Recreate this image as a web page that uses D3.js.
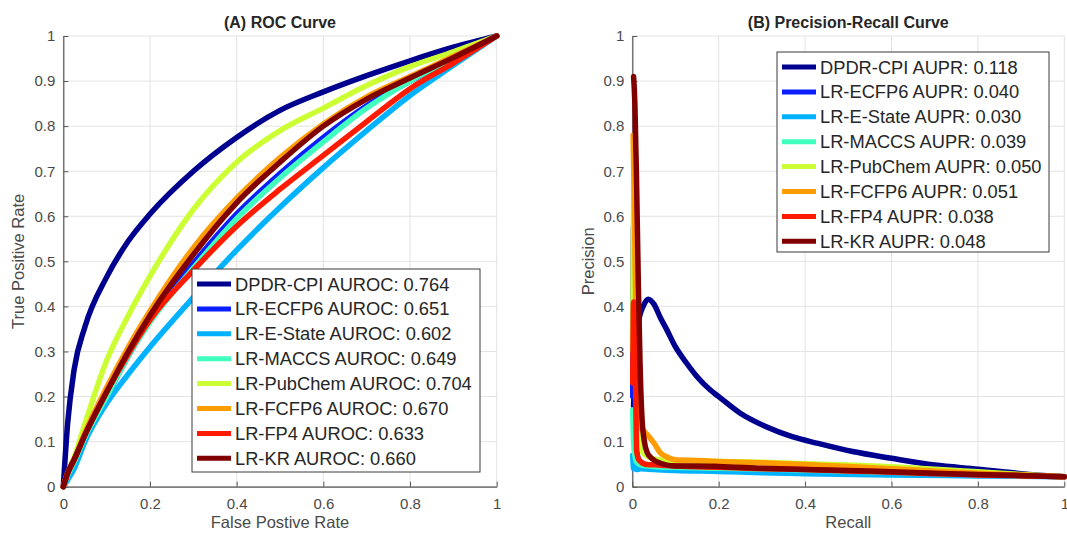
<!DOCTYPE html>
<html>
<head>
<meta charset="utf-8">
<script src="https://cdn.jsdelivr.net/npm/d3@7"></script>
<style>
  body { margin: 0; background: #fff; }
  svg { display: block; font-family: "Liberation Sans", Arial, Helvetica, sans-serif; }
</style>
</head>
<body>
<svg id="chart" width="1067" height="534"></svg>
<script>
// Methods, colours and scores from the legends
var methods = ["DPDR-CPI", "LR-ECFP6", "LR-E-State", "LR-MACCS", "LR-PubChem", "LR-FCFP6", "LR-FP4", "LR-KR"];
var colors = ["#00008f", "#0a1eff", "#00b2ff", "#40ffbf", "#ccff33", "#ff9c00", "#ff1a00", "#800000"];
var aurocValues = ["0.764", "0.651", "0.602", "0.649", "0.704", "0.670", "0.633", "0.660"];
var auprValues = ["0.118", "0.040", "0.030", "0.039", "0.050", "0.051", "0.038", "0.048"];

var xTicks = [0, 0.2, 0.4, 0.6, 0.8, 1];
var yTicks = [0, 0.1, 0.2, 0.3, 0.4, 0.5, 0.6, 0.7, 0.8, 0.9, 1];

// ROC curves (false positive rate grid shared by all)
var rocFpr = [0, 0.01, 0.025, 0.05, 0.1, 0.15, 0.2, 0.3, 0.4, 0.5, 0.6, 0.7, 0.8, 0.9, 1];
var rocDPDR     = [0, 0.14, 0.26, 0.355, 0.465, 0.545, 0.605, 0.7, 0.775, 0.835, 0.876, 0.912, 0.945, 0.975, 1];
var rocECFP6    = [0, 0.025, 0.055, 0.11, 0.2, 0.29, 0.37, 0.495, 0.605, 0.695, 0.775, 0.845, 0.9, 0.95, 1];
var rocEState   = [0, 0.015, 0.04, 0.1, 0.185, 0.25, 0.31, 0.42, 0.525, 0.62, 0.708, 0.79, 0.868, 0.935, 1];
var rocMACCS    = [0, 0.025, 0.055, 0.11, 0.2, 0.29, 0.365, 0.485, 0.595, 0.685, 0.765, 0.84, 0.9, 0.95, 1];
var rocPubChem  = [0, 0.03, 0.065, 0.14, 0.28, 0.38, 0.467, 0.615, 0.72, 0.79, 0.84, 0.89, 0.932, 0.965, 1];
var rocFCFP6    = [0, 0.03, 0.06, 0.12, 0.22, 0.31, 0.39, 0.53, 0.64, 0.73, 0.805, 0.865, 0.91, 0.955, 1];
var rocFP4      = [0, 0.03, 0.06, 0.115, 0.21, 0.295, 0.37, 0.48, 0.578, 0.66, 0.735, 0.81, 0.883, 0.94, 1];
var rocKR       = [0, 0.03, 0.06, 0.115, 0.21, 0.3, 0.38, 0.515, 0.63, 0.72, 0.8, 0.86, 0.907, 0.952, 1];

// Precision-recall curves
var prRecallDPDR = [0.003, 0.008, 0.015, 0.025, 0.037, 0.05, 0.065, 0.08, 0.1, 0.125, 0.15, 0.18, 0.2, 0.25, 0.31, 0.37, 0.43, 0.51, 0.6, 0.7, 0.8, 0.9, 1];
var prPrecDPDR   = [0.18, 0.3, 0.37, 0.4, 0.416, 0.405, 0.375, 0.348, 0.31, 0.275, 0.244, 0.215, 0.2, 0.163, 0.133, 0.111, 0.096, 0.078, 0.063, 0.048, 0.039, 0.029, 0.022];
var prRecallECFP6 = [0.001, 0.003, 0.006, 0.01, 0.02, 0.04, 0.1, 0.2, 0.4, 0.6, 0.8, 1];
var prPrecECFP6   = [0.2, 0.58, 0.25, 0.08, 0.05, 0.045, 0.042, 0.04, 0.036, 0.032, 0.027, 0.022];
var prRecallEState = [0.001, 0.003, 0.006, 0.01, 0.02, 0.05, 0.1, 0.2, 0.3, 0.4, 0.6, 0.8, 1];
var prPrecEState   = [0.07, 0.04, 0.05, 0.038, 0.04, 0.038, 0.036, 0.034, 0.031, 0.029, 0.026, 0.024, 0.022];
var prRecallMACCS = [0.001, 0.003, 0.006, 0.01, 0.02, 0.05, 0.1, 0.2, 0.4, 0.6, 0.8, 1];
var prPrecMACCS   = [0.17, 0.1, 0.07, 0.055, 0.048, 0.045, 0.043, 0.041, 0.037, 0.032, 0.027, 0.022];
var prRecallPubChem = [0.001, 0.004, 0.008, 0.012, 0.018, 0.025, 0.04, 0.06, 0.1, 0.2, 0.3, 0.4, 0.5, 0.6, 0.7, 0.8, 0.9, 1];
var prPrecPubChem   = [0.3, 0.67, 0.4, 0.2, 0.1, 0.075, 0.065, 0.06, 0.058, 0.056, 0.054, 0.051, 0.048, 0.044, 0.039, 0.033, 0.027, 0.022];
var prRecallFCFP6 = [0.002, 0.005, 0.008, 0.012, 0.016, 0.02, 0.025, 0.035, 0.05, 0.065, 0.08, 0.1, 0.15, 0.2, 0.3, 0.4, 0.5, 0.6, 0.7, 0.8, 0.9, 1];
var prPrecFCFP6   = [0.78, 0.6, 0.4, 0.25, 0.16, 0.13, 0.125, 0.115, 0.097, 0.075, 0.066, 0.06, 0.058, 0.056, 0.053, 0.049, 0.045, 0.04, 0.035, 0.03, 0.026, 0.022];
var prRecallFP4 = [0.001, 0.003, 0.005, 0.008, 0.01, 0.015, 0.03, 0.06, 0.1, 0.2, 0.3, 0.4, 0.5, 0.6, 0.7, 0.8, 0.9, 1];
var prPrecFP4   = [0.23, 0.41, 0.35, 0.2, 0.08, 0.06, 0.05, 0.048, 0.046, 0.043, 0.04, 0.038, 0.035, 0.032, 0.029, 0.026, 0.024, 0.022];
var prRecallKR = [0.003, 0.006, 0.01, 0.014, 0.018, 0.022, 0.028, 0.035, 0.045, 0.065, 0.1, 0.15, 0.2, 0.3, 0.4, 0.5, 0.6, 0.7, 0.8, 0.9, 1];
var prPrecKR   = [0.91, 0.85, 0.67, 0.45, 0.27, 0.16, 0.1, 0.075, 0.063, 0.052, 0.046, 0.046, 0.045, 0.041, 0.038, 0.036, 0.033, 0.03, 0.027, 0.025, 0.022];

var rocCurves = [rocDPDR, rocECFP6, rocEState, rocMACCS, rocPubChem, rocFCFP6, rocFP4, rocKR].map(function(tpr) {
  return tpr.map(function(v, i) { return [rocFpr[i], v]; });
});
var prPairs = [
  [prRecallDPDR, prPrecDPDR], [prRecallECFP6, prPrecECFP6], [prRecallEState, prPrecEState],
  [prRecallMACCS, prPrecMACCS], [prRecallPubChem, prPrecPubChem], [prRecallFCFP6, prPrecFCFP6],
  [prRecallFP4, prPrecFP4], [prRecallKR, prPrecKR]
];
var prCurves = prPairs.map(function(p) {
  return p[0].map(function(r, i) { return [r, p[1][i]]; });
});

var svg = d3.select("#chart");
var plotTop = 36, plotBottom = 486.7;

function fmt(v) { return v === 0 ? "0" : v === 1 ? "1" : String(v); }

function drawPanel(opts) {
  var x = d3.scaleLinear().domain([0, 1]).range([opts.left, opts.right]);
  var y = d3.scaleLinear().domain([0, 1]).range([plotBottom, plotTop]);
  var g = svg.append("g");

  // grid
  g.append("g")
    .selectAll("line").data(xTicks).enter().append("line")
      .attr("x1", function(d) { return x(d); }).attr("x2", function(d) { return x(d); })
      .attr("y1", plotTop).attr("y2", plotBottom)
      .style("stroke", "#e3e3e3").style("stroke-width", 1);
  g.append("g")
    .selectAll("line").data(yTicks).enter().append("line")
      .attr("y1", function(d) { return y(d); }).attr("y2", function(d) { return y(d); })
      .attr("x1", opts.left).attr("x2", opts.right)
      .style("stroke", "#e3e3e3").style("stroke-width", 1);

  // axes
  var xAxis = g.append("g")
    .attr("transform", "translate(0," + plotBottom + ")")
    .call(d3.axisBottom(x).tickValues(xTicks).tickFormat(fmt).tickSizeInner(-5).tickSizeOuter(0).tickPadding(12));
  var yAxis = g.append("g")
    .attr("transform", "translate(" + opts.left + ",0)")
    .call(d3.axisLeft(y).tickValues(yTicks).tickFormat(fmt).tickSizeInner(-5).tickSizeOuter(0).tickPadding(8));
  [xAxis, yAxis].forEach(function(a) {
    a.select(".domain").style("stroke", "#555").style("stroke-width", 1.2);
    a.selectAll(".tick line").style("stroke", "#555");
    a.selectAll(".tick text").style("font-size", "15px").style("fill", "#4a4a4a")
      .style("font-family", "'Liberation Sans', Arial, sans-serif");
  });

  // curves
  var line = d3.line().curve(d3.curveMonotoneX)
    .x(function(d) { return x(d[0]); }).y(function(d) { return y(d[1]); });
  g.append("g").selectAll("path").data(opts.curves).enter().append("path")
    .attr("d", line)
    .style("fill", "none")
    .style("stroke", function(d, i) { return colors[i]; })
    .style("stroke-width", 5.5)
    .style("stroke-linejoin", "round")
    .style("stroke-linecap", "round");

  var mid = (opts.left + opts.right) / 2;
  g.append("text").attr("x", mid).attr("y", 28)
    .attr("text-anchor", "middle").style("font-weight", "bold").style("font-size", "16px").style("fill", "#262626")
    .text(opts.title);
  g.append("text").attr("x", mid).attr("y", 528)
    .attr("text-anchor", "middle").style("font-size", "16.5px").style("fill", "#4a4a4a")
    .text(opts.xLabel);
  g.append("text").attr("transform", "translate(" + opts.yLabelX + "," + ((plotTop + plotBottom) / 2) + ") rotate(-90)")
    .attr("text-anchor", "middle").style("font-size", "16.5px").style("fill", "#4a4a4a")
    .text(opts.yLabel);

  // legend
  var lg = opts.legend;
  g.append("rect").attr("x", lg.x).attr("y", lg.y).attr("width", lg.w).attr("height", lg.h)
    .style("fill", "#fff").style("stroke", "#3a3a3a").style("stroke-width", 1);
  var rows = g.append("g").selectAll("g").data(methods).enter().append("g")
    .attr("transform", function(d, i) { return "translate(" + lg.x + "," + (lg.y + 15 + i * 24.9) + ")"; });
  rows.append("line").attr("x1", 5).attr("x2", 39).attr("y1", 0).attr("y2", 0)
    .style("stroke", function(d, i) { return colors[i]; }).style("stroke-width", 5);
  rows.append("text").attr("x", 43).attr("y", 0).attr("dy", "0.36em")
    .style("font-size", "18.3px").style("fill", "#262626")
    .text(function(d, i) { return d + " " + opts.scoreName + ": " + opts.scores[i]; });
}

drawPanel({
  left: 63.3, right: 496.7, curves: rocCurves,
  title: "(A) ROC Curve", xLabel: "False Postive Rate", yLabel: "True Positive Rate", yLabelX: 24,
  legend: {x: 192, y: 269, w: 288, h: 203}, scoreName: "AUROC", scores: aurocValues
});
drawPanel({
  left: 632.3, right: 1064.3, curves: prCurves,
  title: "(B) Precision-Recall Curve", xLabel: "Recall", yLabel: "Precision", yLabelX: 594,
  legend: {x: 777, y: 52, w: 272, h: 200}, scoreName: "AUPR", scores: auprValues
});
</script>
</body>
</html>
